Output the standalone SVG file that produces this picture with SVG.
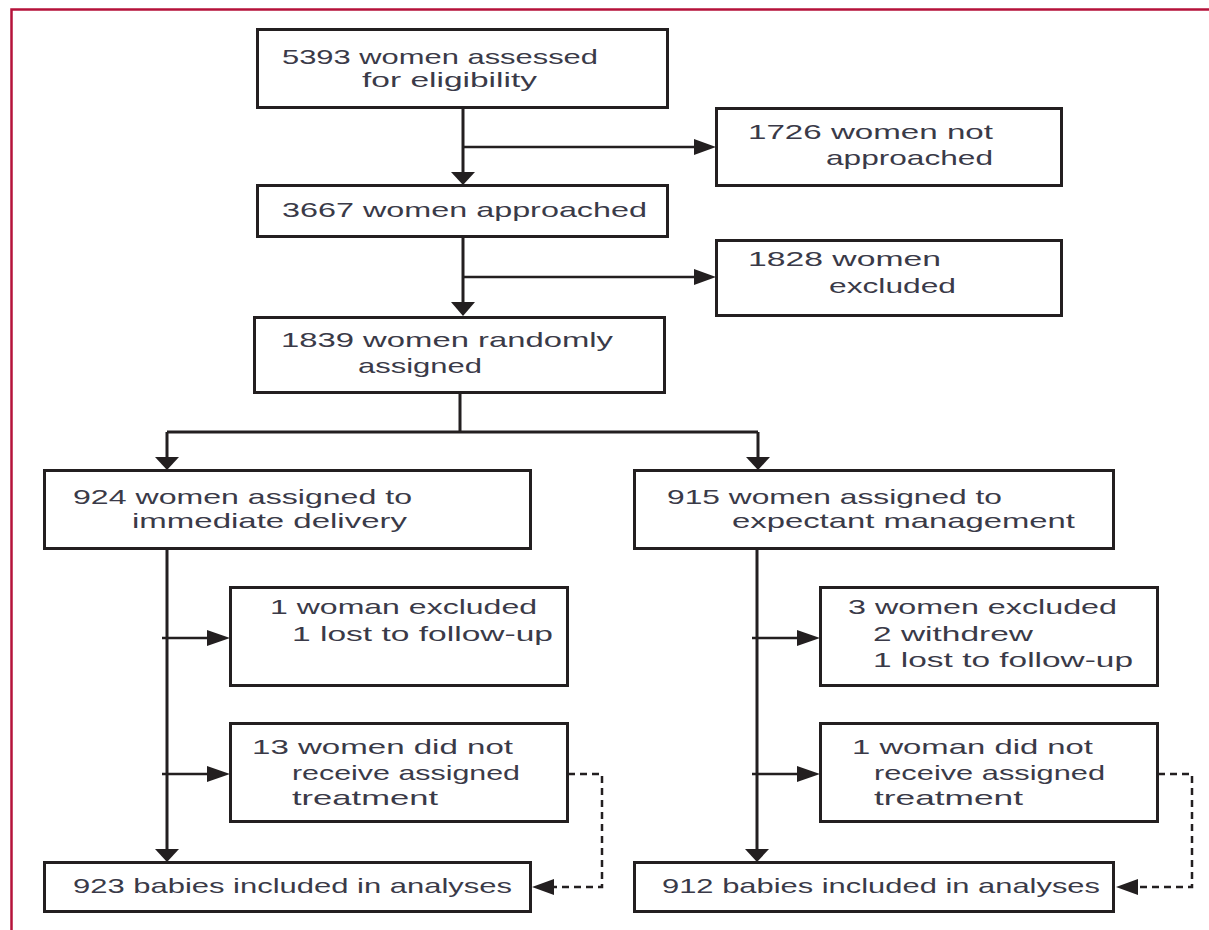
<svg xmlns="http://www.w3.org/2000/svg" width="1209" height="930" viewBox="0 0 1209 930">
<style>
.box{fill:#fff;stroke:#231f20;stroke-width:3}
.ln{fill:none;stroke:#231f20;stroke-width:3}
.hl{fill:none;stroke:#231f20;stroke-width:2.5}
.dl{fill:none;stroke:#231f20;stroke-width:2.5;stroke-dasharray:7 5}
.ah{fill:#231f20}
text{font-family:"Liberation Sans",Arial,sans-serif;font-size:21px;fill:#3a3a48}
</style>
<rect width="1209" height="930" fill="#fff"/>
<path d="M11.5 930 V9.5 H1209" fill="none" stroke="#b5123a" stroke-width="2.5"/>
<g id="connectors">
<path class="ln" d="M463 108 V174"/>
<path class="hl" d="M463 147 H696"/>
<path class="ln" d="M463 237 V304"/>
<path class="hl" d="M463 277 H696"/>
<path class="ln" d="M460 393 V432 M167 432 H758 M167 432 V458 M758 432 V458"/>
<path class="ln" d="M167 549 V850"/>
<path class="ln" d="M757 549 V850"/>
<path class="hl" d="M162 638 H210 M162 774 H210"/>
<path class="hl" d="M752 638 H800 M752 774 H800"/>
<path class="dl" d="M568 774 H602 V887 H550"/>
<path class="dl" d="M1158 774 H1192 V887 H1134"/>
<polygon class="ah" points="451,172 475,172 463,185"/>
<polygon class="ah" points="451,302 475,302 463,316"/>
<polygon class="ah" points="155,457 179,457 167,470"/>
<polygon class="ah" points="746,457 770,457 758,470"/>
<polygon class="ah" points="155,849 179,849 167,862"/>
<polygon class="ah" points="745,849 769,849 757,862"/>
<polygon class="ah" points="694,139 694,155 716,147"/>
<polygon class="ah" points="694,269 694,285 716,277"/>
<polygon class="ah" points="207,630 207,646 230,638"/>
<polygon class="ah" points="207,766 207,782 230,774"/>
<polygon class="ah" points="797,630 797,646 820,638"/>
<polygon class="ah" points="797,766 797,782 820,774"/>
<polygon class="ah" points="554,879 554,895 532,887"/>
<polygon class="ah" points="1138,879 1138,895 1116,887"/>
</g>
<g id="n1"><rect class="box" x="257.5" y="29.5" width="410" height="78"/>
<text x="282" y="64" textLength="316" lengthAdjust="spacingAndGlyphs">5393 women assessed</text>
<text x="362" y="87" textLength="175" lengthAdjust="spacingAndGlyphs">for eligibility</text></g>
<g id="n2"><rect class="box" x="716.5" y="108.5" width="345" height="77"/>
<text x="748" y="139" textLength="245" lengthAdjust="spacingAndGlyphs">1726 women not</text>
<text x="826" y="165" textLength="167" lengthAdjust="spacingAndGlyphs">approached</text></g>
<g id="n3"><rect class="box" x="257.5" y="185.5" width="410" height="51"/>
<text x="282" y="217" textLength="365" lengthAdjust="spacingAndGlyphs">3667 women approached</text></g>
<g id="n4"><rect class="box" x="716.5" y="240.5" width="345" height="75"/>
<text x="748" y="266" textLength="193" lengthAdjust="spacingAndGlyphs">1828 women</text>
<text x="829" y="293" textLength="127" lengthAdjust="spacingAndGlyphs">excluded</text></g>
<g id="n5"><rect class="box" x="254.5" y="317.5" width="410" height="75"/>
<text x="281" y="347" textLength="332" lengthAdjust="spacingAndGlyphs">1839 women randomly</text>
<text x="358" y="373" textLength="124" lengthAdjust="spacingAndGlyphs">assigned</text></g>
<g id="n6"><rect class="box" x="44.5" y="470.5" width="486" height="78"/>
<text x="73" y="504" textLength="339" lengthAdjust="spacingAndGlyphs">924 women assigned to</text>
<text x="132" y="528" textLength="275" lengthAdjust="spacingAndGlyphs">immediate delivery</text></g>
<g id="n7"><rect class="box" x="634.5" y="470.5" width="479" height="78"/>
<text x="667" y="504" textLength="335" lengthAdjust="spacingAndGlyphs">915 women assigned to</text>
<text x="732" y="528" textLength="343" lengthAdjust="spacingAndGlyphs">expectant management</text></g>
<g id="n8"><rect class="box" x="230.5" y="587.5" width="337" height="98"/>
<text x="270" y="614" textLength="267" lengthAdjust="spacingAndGlyphs">1 woman excluded</text>
<text x="292" y="641" textLength="261" lengthAdjust="spacingAndGlyphs">1 lost to follow-up</text></g>
<g id="n9"><rect class="box" x="230.5" y="723.5" width="337" height="98"/>
<text x="252" y="754" textLength="261" lengthAdjust="spacingAndGlyphs">13 women did not</text>
<text x="292" y="780" textLength="228" lengthAdjust="spacingAndGlyphs">receive assigned</text>
<text x="292" y="805" textLength="146" lengthAdjust="spacingAndGlyphs">treatment</text></g>
<g id="n10"><rect class="box" x="44.5" y="862.5" width="486" height="49"/>
<text x="73" y="893" textLength="439" lengthAdjust="spacingAndGlyphs">923 babies included in analyses</text></g>
<g id="n11"><rect class="box" x="820.5" y="587.5" width="337" height="98"/>
<text x="848" y="614" textLength="269" lengthAdjust="spacingAndGlyphs">3 women excluded</text>
<text x="873" y="641" textLength="160" lengthAdjust="spacingAndGlyphs">2 withdrew</text>
<text x="873" y="667" textLength="260" lengthAdjust="spacingAndGlyphs">1 lost to follow-up</text></g>
<g id="n12"><rect class="box" x="820.5" y="723.5" width="337" height="98"/>
<text x="852" y="754" textLength="241" lengthAdjust="spacingAndGlyphs">1 woman did not</text>
<text x="874" y="780" textLength="231" lengthAdjust="spacingAndGlyphs">receive assigned</text>
<text x="874" y="805" textLength="149" lengthAdjust="spacingAndGlyphs">treatment</text></g>
<g id="n13"><rect class="box" x="634.5" y="862.5" width="479" height="49"/>
<text x="662" y="893" textLength="438" lengthAdjust="spacingAndGlyphs">912 babies included in analyses</text></g>
</svg>
